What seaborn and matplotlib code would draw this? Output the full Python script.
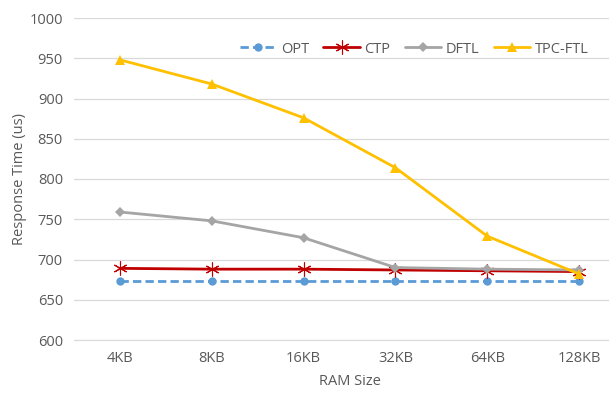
import matplotlib
matplotlib.use('Agg')
import matplotlib.pyplot as plt
import seaborn as sns
import pandas as pd

ram_sizes = ['4KB', '8KB', '16KB', '32KB', '64KB', '128KB']
opt = [673, 673, 673, 673, 673, 673]
ctp = [689, 688, 688, 687, 686, 685]
dftl = [759, 748, 727, 690, 688, 687]
tpc_ftl = [948, 918, 876, 814, 729, 682]

series = {'OPT': opt, 'CTP': ctp, 'DFTL': dftl, 'TPC-FTL': tpc_ftl}
styles = {
    'OPT': dict(color='#5B9BD5', marker='o', markersize=6, linestyle=(0, (3, 1.5)), mew=0),
    'CTP': dict(color='#C00000', marker=(6, 2, 0), markersize=10, linestyle='-', mew=0.8),
    'DFTL': dict(color='#A5A5A5', marker='D', markersize=5, linestyle='-', mew=0),
    'TPC-FTL': dict(color='#FFC000', marker='^', markersize=7, linestyle='-', mew=0),
}

rows = []
for name, vals in series.items():
    for i, v in enumerate(vals):
        rows.append([name, i, v])
df = pd.DataFrame(rows, columns=['Method', 'Pos', 'Time'])

sns.set_style('white')
plt.rcParams['font.family'] = ['Open Sans', 'DejaVu Sans']
text_color = '#595959'

fig = plt.figure(figsize=(6.09, 4.01), dpi=100)
ax = fig.add_axes([74 / 609, 61 / 401, 551 / 609, 322 / 401])

for name in series:
    sub = df[df['Method'] == name]
    st = styles[name]
    sns.lineplot(data=sub, x='Pos', y='Time', ax=ax, label=name,
                 color=st['color'], marker=st['marker'], markersize=st['markersize'],
                 markeredgecolor=st['color'], markeredgewidth=st['mew'],
                 linewidth=2.0, linestyle=st['linestyle'], zorder=3)

ax.set_xlim(-0.5, 5.5)
ax.set_ylim(600, 1000)
ax.set_yticks(range(600, 1001, 50))
ax.set_xticks(range(len(ram_sizes)))
ax.set_xticklabels(ram_sizes)
ax.yaxis.grid(True, color='#D9D9D9', linewidth=0.9)
ax.xaxis.grid(False)
for s in ['top', 'right', 'left']:
    ax.spines[s].set_visible(False)
ax.spines['bottom'].set_color('#D9D9D9')
ax.tick_params(axis='both', length=0, labelsize=10.5, colors=text_color, pad=8)
ax.set_xlabel('RAM Size', fontsize=10.5, color=text_color, labelpad=6)
ax.set_ylabel('Response Time (us)', fontsize=10.5, color=text_color, labelpad=2)

ax.legend(loc='upper left', bbox_to_anchor=(160 / 551, 0.945), ncol=4, frameon=False,
          fontsize=10.5, labelcolor=text_color, handlelength=2.5, columnspacing=1.0,
          handletextpad=0.3, borderaxespad=0)

fig.savefig('out.png', dpi=100)
